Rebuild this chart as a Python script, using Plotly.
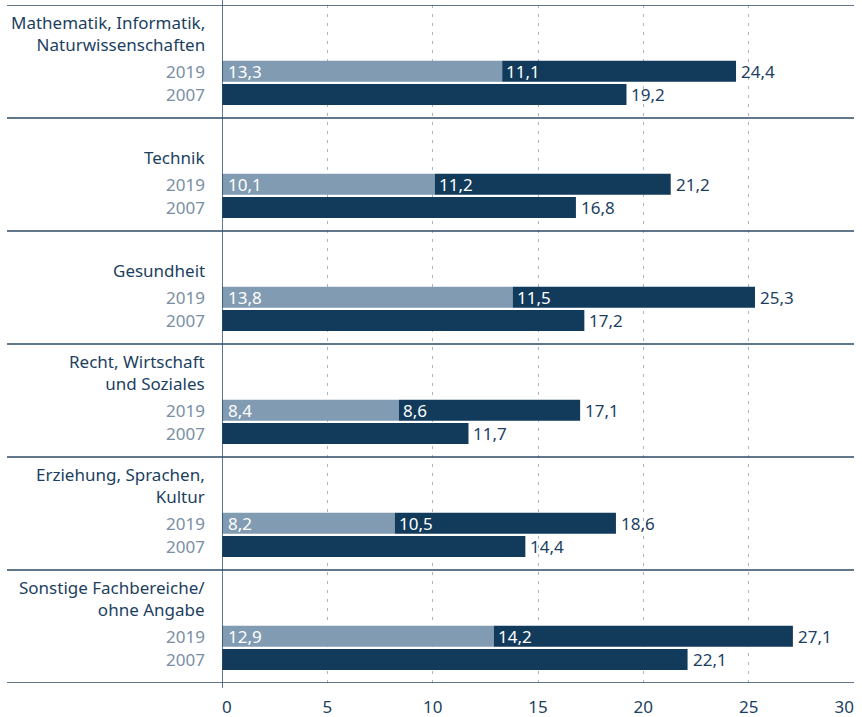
import plotly.graph_objects as go

categories = ["Mathematik, Informatik,<br>Naturwissenschaften", "Technik", "Gesundheit",
              "Recht, Wirtschaft<br>und Soziales", "Erziehung, Sprachen,<br>Kultur",
              "Sonstige Fachbereiche/<br>ohne Angabe"]
years = ["2019", "2007"]
light_2019 = [13.3, 10.1, 13.8, 8.4, 8.2, 12.9]
dark_2019 = [11.1, 11.2, 11.5, 8.6, 10.5, 14.2]
total_2019 = [24.4, 21.2, 25.3, 17.1, 18.6, 27.1]
values_2007 = [19.2, 16.8, 17.2, 11.7, 14.4, 22.1]
x_ticks_mid = [5, 10, 15, 20, 25]
x_tick_first = [0]
x_tick_last = [30]

LIGHT = "#819bb2"
DARK = "#123a5b"
TXT = "#1c3f5f"
YEARC = "#7a8ea3"
FONT = "Noto Sans"
FS = 17

n = len(categories)
off19, off07, bw = 0.586, 0.793, 0.186
y19 = [i + off19 for i in range(n)]
y07 = [i + off07 for i in range(n)]

def fmt(v):
    return f"{v:.1f}".replace(".", ",")

fig = go.Figure()
fig.add_trace(go.Bar(y=y19, x=light_2019, base=[0]*n, orientation="h", width=bw,
                     marker=dict(color=LIGHT, line=dict(width=0)), hoverinfo="skip"))
fig.add_trace(go.Bar(y=y19, x=dark_2019, base=light_2019, orientation="h", width=bw,
                     marker=dict(color=DARK, line=dict(width=0)), hoverinfo="skip"))
fig.add_trace(go.Bar(y=y07, x=values_2007, base=[0]*n, orientation="h", width=bw,
                     marker=dict(color=DARK, line=dict(width=0)), hoverinfo="skip"))
fig.add_trace(go.Scatter(x=[None], y=[None], xaxis="x2", yaxis="y", showlegend=False))
fig.add_trace(go.Scatter(x=[None], y=[None], xaxis="x3", yaxis="y", showlegend=False))

ann = []
for i in range(n):
    ann.append(dict(x=0, xref="paper", y=i + 0.465, yref="y", text=categories[i],
                    xanchor="right", yanchor="bottom", xshift=-15, align="right",
                    showarrow=False, font=dict(family=FONT, size=FS, color=TXT)))
    for yy, lab in zip([y19[i], y07[i]], years):
        ann.append(dict(x=0, xref="paper", y=yy, yref="y", text=lab, xanchor="right",
                        yanchor="middle", xshift=-15, showarrow=False,
                        font=dict(family=FONT, size=FS, color=YEARC)))
    ann.append(dict(x=0, y=y19[i], text=fmt(light_2019[i]), xanchor="left", xshift=4,
                    showarrow=False, font=dict(family=FONT, size=FS, color="white")))
    ann.append(dict(x=light_2019[i], y=y19[i], text=fmt(dark_2019[i]), xanchor="left",
                    xshift=2, showarrow=False, font=dict(family=FONT, size=FS, color="white")))
    ann.append(dict(x=light_2019[i] + dark_2019[i], y=y19[i], text=fmt(total_2019[i]),
                    xanchor="left", xshift=3, showarrow=False,
                    font=dict(family=FONT, size=FS, color=TXT)))
    ann.append(dict(x=values_2007[i], y=y07[i], text=fmt(values_2007[i]), xanchor="left",
                    xshift=3, showarrow=False, font=dict(family=FONT, size=FS, color=TXT)))

L, R, T, B = 222, 8, 5, 34
pw = 862 - L - R
ph = 717 - T - B
x_left = (7 - L) / pw

shapes = []
for k in range(n + 1):
    shapes.append(dict(type="line", xref="paper", x0=x_left, x1=1, yref="y", y0=k, y1=k,
                       line=dict(color="#2b4a66", width=1.5)))
shapes.append(dict(type="line", xref="x", x0=0, x1=0, yref="paper", y0=-5 / ph,
                   y1=1 + 5 / ph, line=dict(color="#2b4a66", width=1.5)))

tickfont = dict(family=FONT, size=FS, color=TXT)
common = dict(range=[0, 30], zeroline=False, showline=False, ticks="", automargin=False,
              tickfont=tickfont, fixedrange=True, ticklabelstandoff=12)
fig.update_layout(
    width=862, height=717, barmode="overlay", showlegend=False,
    margin=dict(l=L, r=R, t=T, b=B, autoexpand=False),
    paper_bgcolor="white", plot_bgcolor="white",
    xaxis=dict(tickvals=x_ticks_mid + x_tick_last,
               ticktext=[str(t) for t in x_ticks_mid] + [""],
               showgrid=True, gridcolor="#a6b6c6", griddash="3px,6px", gridwidth=1,
               **common),
    xaxis2=dict(overlaying="x", side="bottom", tickvals=x_tick_first,
                ticktext=[str(t) for t in x_tick_first], ticklabelposition="outside right",
                showgrid=False, **common),
    xaxis3=dict(overlaying="x", side="bottom", tickvals=x_tick_last,
                ticktext=[str(t) for t in x_tick_last], ticklabelposition="outside left",
                showgrid=False, **common),
    yaxis=dict(range=[n, 0], showticklabels=False, showgrid=False, zeroline=False,
               showline=False, ticks="", fixedrange=True, automargin=False),
    annotations=ann, shapes=shapes,
)
fig.write_html("out.html", config={"displayModeBar": False},
               post_script="document.body.style.margin='0px';")
